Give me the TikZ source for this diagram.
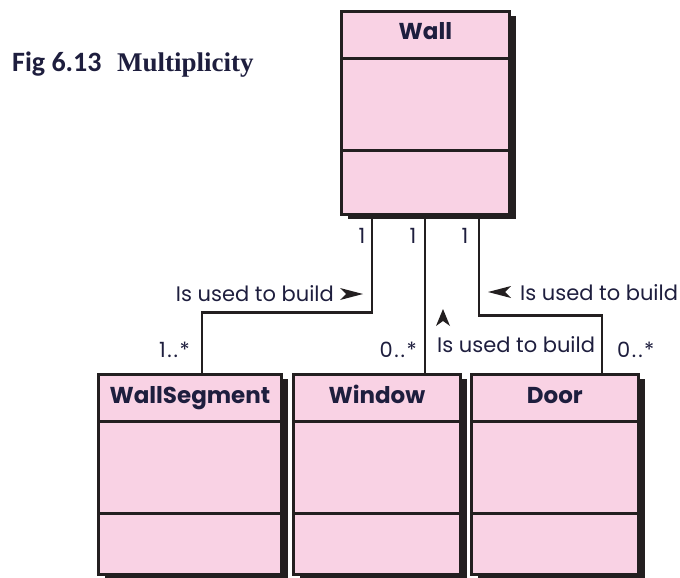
\documentclass[tikz,border=0pt]{standalone}
\usepackage{fontspec}
\setmainfont{Liberation Serif}
\newfontfamily\umlfont{Poppins}
\newfontfamily\figfont{Carlito}
\usetikzlibrary{positioning,shadows}

\definecolor{classpink}{RGB}{249,210,228}
\definecolor{inkline}{RGB}{35,31,32}
\definecolor{inktext}{RGB}{30,30,62}

\tikzset{
  classbox/.style={draw=inkline, line width=2.8pt, fill=classpink,
    inner sep=0pt, anchor=north west,
    drop shadow={shadow xshift=7pt, shadow yshift=-5pt, fill=inkline, opacity=1}},
  classname/.style={font=\umlfont\bfseries\fontsize{23}{23}\selectfont,
    text=inktext, anchor=base, inner sep=0pt},
  mult/.style={font=\umlfont\fontsize{21}{21}\selectfont, text=inktext, inner sep=0pt},
  assoc/.style={draw=inkline, line width=2.8pt},
  readarrow/.style={fill=inkline}
}
\newcommand\manydots[2]{#1\kern1.5pt.\kern2pt.\kern1.5pt#2}

\begin{document}
\begin{tikzpicture}[x=1pt, y=-1pt]
\useasboundingbox (0,0) rectangle (680,578);

% The caption, top left: number in the book's sans, title in its serif.
\node[anchor=base west, inner sep=0pt, text=inktext,
      font=\figfont\bfseries\fontsize{28}{28}\selectfont] (fignum) at (12,72) {Fig 6.13};
\node[anchor=base west, inner sep=0pt, text=inktext,
      font=\bfseries\fontsize{27}{27}\selectfont] (figtitle) at (117,72) {Multiplicity};

% The four classes.  Shadows come along with the boxes.
\node[classbox, minimum width=168pt, minimum height=203pt] (wall) at (340,10) {};
\node[classbox, minimum width=183pt, minimum height=200pt] (seg)  at (97,373) {};
\node[classbox, minimum width=167pt, minimum height=200pt] (win)  at (292,373) {};
\node[classbox, minimum width=167pt, minimum height=200pt] (door) at (470,373) {};

% Name / attributes / operations compartments, all the same depths.
\foreach \cls in {wall,seg,win,door} {
  \draw[assoc, line width=2.3pt]
    ([yshift=-48.5pt]\cls.north west) -- ([yshift=-48.5pt]\cls.north east)
    ([yshift=-140.5pt]\cls.north west) -- ([yshift=-140.5pt]\cls.north east);
}

\foreach \cls/\clstext in {wall/Wall, seg/WallSegment, win/Window, door/Door}
  \node[classname] (\cls name) at ([yshift=-30pt]\cls.north) {\clstext};

% Associations, one elbow each for the outer two.
\draw[assoc]
  ([xshift=32pt]wall.south west) -- ++(0,97) -| ([xshift=105pt]seg.north west)
  ([xshift=85pt]wall.south west) -- ([xshift=85pt]wall.south west |- win.north)
  ([xshift=139pt]wall.south west) -- ++(0,100) -| ([xshift=132pt]door.north west)
;

% Multiplicities.
\foreach \m/\x in {ma/362, mb/413, mc/465}
  \node[mult, anchor=base] (\m) at (\x,243) {1};
\node[mult, anchor=base east] (mseg)  at (190,357) {\manydots{1}{*}};
\node[mult, anchor=base east] (mwin)  at (417,357) {\manydots{0}{*}};
\node[mult, anchor=base west] (mdoor) at (617,357) {\manydots{0}{*}};

% Role names and their reading-direction arrowheads.
\node[mult, anchor=base east] (rseg)  at (334,301) {Is used to build};
\node[mult, anchor=base west] (rdoor) at (520,300) {Is used to build};
\node[mult, anchor=base west] (rwin)  at (437,352) {Is used to build};

\fill[readarrow, shift={(363,294)}] (0,0) -- (-23,-6) -- (-17,0) -- (-23,6) -- cycle;
\fill[readarrow, shift={(488,292)}] (0,0) -- (23,-6) -- (17,0) -- (23,6) -- cycle;
\fill[readarrow, shift={(443,309)}] (0,0) -- (-7,17) -- (0,12) -- (7,17) -- cycle;
\end{tikzpicture}
\end{document}
